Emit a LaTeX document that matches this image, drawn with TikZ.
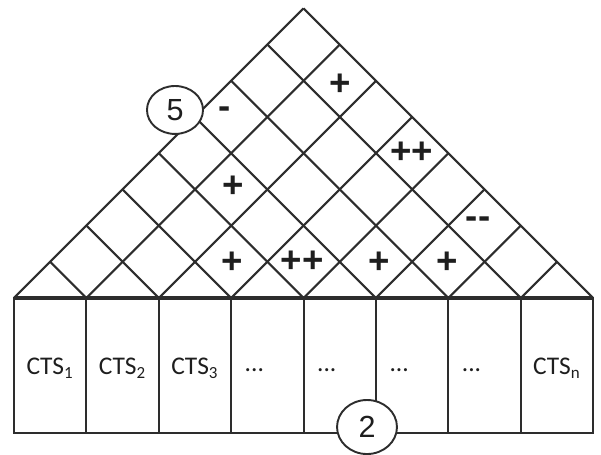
\documentclass[tikz,border=0pt]{standalone}
\usepackage{fontspec}
\setmainfont{Carlito}
\newfontfamily\signfont{Liberation Sans}
\usepackage{tikz}
\usetikzlibrary{calc,positioning}
\definecolor{gridGray}{RGB}{45,45,45}
\definecolor{labelGray}{RGB}{30,30,30}

\begin{document}
\begin{tikzpicture}[x=1.2cm,y=1.2cm]
\useasboundingbox (-0.193,-2.168) rectangle (8.108,4.116);
% diagonal lattice over the columns
\foreach \i in {0,...,8}{
  \draw[gridGray, line width=1pt] (\i,0) -- ({(\i+8)/2},{(8-\i)/2});
  \draw[gridGray, line width=1pt] (\i,0) -- ({\i/2},{\i/2});
}
% columns
\draw[gridGray, line width=1pt] (0,0) rectangle (8,-1.865);
\foreach \i in {1,...,7}
  \draw[gridGray, line width=1pt] (\i,0) -- (\i,-1.865);
\draw[gridGray, line width=1.5pt] (0,0) -- (8,0);
\foreach \i/\t in {1/1,2/2,3/3}
  \node[text=labelGray, font=\large] (cts\i) at ({\i-0.5},-0.97) {CTS\textsubscript{\t}};
\node[text=labelGray, font=\large] (ctsn) at (7.5,-0.97) {CTS\textsubscript{n}};
\foreach \i in {4,...,7}
  \node[text=labelGray, font=\large] (dots\i) at ({\i-0.68},-1.0) {...};
% signs
\node[text=labelGray, font=\signfont\bfseries\LARGE] (pA) at (4.50,2.94) {+};
\node[text=labelGray, font=\signfont\bfseries\LARGE] (mA) at (2.914,2.555) {-};
\node[text=labelGray, font=\signfont\bfseries\LARGE] (ppA) at (5.497,2.003) {++};
\node[text=labelGray, font=\signfont\bfseries\LARGE] (pB) at (3.025,1.533) {+};
\node[text=labelGray, font=\signfont\bfseries\LARGE] (mmA) at (6.41,1.036) {{-}{-}};
\node[text=labelGray, font=\signfont\bfseries\LARGE] (pC) at (3.01,0.483) {+};
\node[text=labelGray, font=\signfont\bfseries\LARGE] (ppB) at (3.98,0.497) {++};
\node[text=labelGray, font=\signfont\bfseries\LARGE] (pD) at (5.04,0.483) {+};
\node[text=labelGray, font=\signfont\bfseries\LARGE] (pE) at (5.99,0.483) {+};
% markers
\draw[gridGray, fill=white, line width=0.9pt] (2.224,2.597) ellipse (0.387 and 0.331);
\node[text=labelGray, font=\signfont\Large] (five) at (2.224,2.597) {5};
\draw[gridGray, fill=white, line width=0.9pt] (4.876,-1.782) ellipse (0.414 and 0.373);
\node[text=labelGray, font=\signfont\Large] (two) at (4.876,-1.782) {2};
\end{tikzpicture}
\end{document}
